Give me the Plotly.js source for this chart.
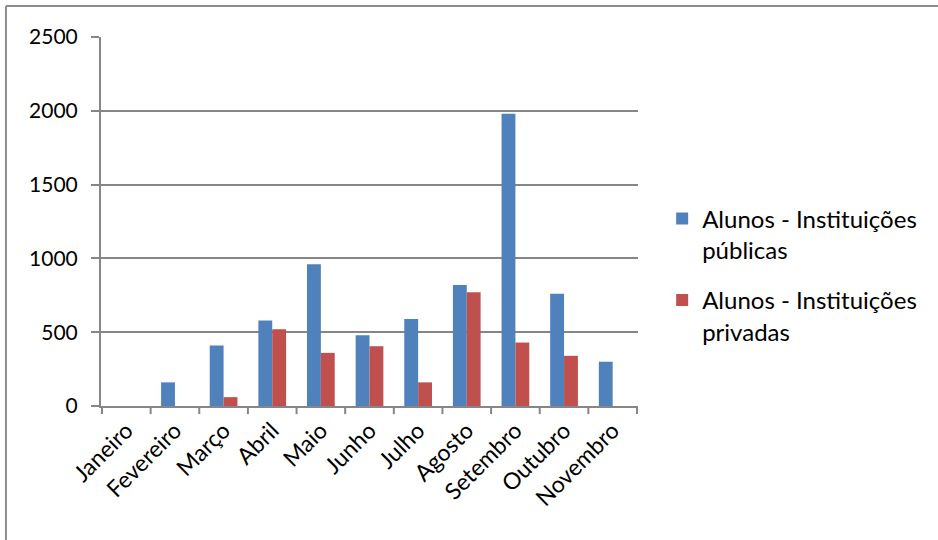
<!DOCTYPE html>
<html>
<head>
<meta charset="utf-8">
<script src="https://cdn.plot.ly/plotly-3.0.1.min.js"></script>
<style>html,body{margin:0;padding:0;background:#fff;}#chart{width:938px;height:540px;}</style>
</head>
<body>
<div id="chart"></div>
<script>
const months = ["Janeiro","Fevereiro","Março","Abril","Maio","Junho","Julho","Agosto","Setembro","Outubro","Novembro"];
const publicas = [0, 160, 410, 580, 960, 480, 590, 820, 1980, 760, 300];
const privadas = [0, 0, 60, 520, 360, 405, 160, 770, 430, 340, 0];
const seriesNames = ["Alunos - Instituições<br>públicas", "Alunos - Instituições<br>privadas"];
const yTicks = [0, 500, 1000, 1500, 2000, 2500];

const font = "Lato, 'Open Sans', 'Liberation Sans', sans-serif";

const traces = [
  {type:'bar', x: months, y: publicas, name: seriesNames[0], legendgroup:'a',
   marker:{color:'#4F81BD', line:{width:0}}},
  {type:'bar', x: months, y: privadas, name: seriesNames[1], legendgroup:'b',
   marker:{color:'#C0504D', line:{width:0}}}
];

const layout = {
  width: 938, height: 540,
  margin: {l:101, r:300, t:37, b:134, pad:0},
  paper_bgcolor:'#fff', plot_bgcolor:'#fff',
  font: {family: font, size: 22, color:'#000'},
  barmode:'group', bargap: 0.43, bargroupgap: 0,
  showlegend: true,
  legend: {x: 1.045, y: 0.355, xanchor:'left', yanchor:'middle',
    font:{family: font, size:24, color:'#000'},
    traceorder:'grouped', tracegroupgap: 16, valign:'top',
    itemwidth: 30, bgcolor:'rgba(0,0,0,0)'},
  xaxis: {type:'category', tickangle:-45, showgrid:false,
    showline:true, linecolor:'#868686', linewidth:2,
    ticks:'outside', ticklen:0, tickfont:{family:font, size:23}},
  yaxis: {range:[0,2500], tickvals: yTicks, ticktext: yTicks.map(String),
    showgrid:true, gridcolor:'#868686', gridwidth:2,
    showline:true, linecolor:'#868686', linewidth:2,
    ticks:'outside', ticklen:8, tickcolor:'#868686', tickwidth:2,
    zeroline:false, tickfont:{family:font, size:21}, ticklabelstandoff: 9},
  shapes: [
    {type:'line', xref:'paper', yref:'paper', x0:-0.177, x1:2, y0:1.084, y1:1.084, line:{color:'#8C8C8C', width:2}},
    {type:'line', xref:'paper', yref:'paper', x0:-0.177, x1:-0.177, y0:1.084, y1:-1, line:{color:'#8C8C8C', width:2}}
  ]
};

// category boundary tick marks on the x axis
for (let i = 0; i <= months.length; i++) {
  layout.shapes.push({type:'line', xref:'x', yref:'paper', x0:i-0.5, x1:i-0.5, y0:0, y1:-0.022,
    line:{color:'#868686', width:2}});
}

Plotly.newPlot('chart', traces, layout, {staticPlot:true});
</script>
</body>
</html>
